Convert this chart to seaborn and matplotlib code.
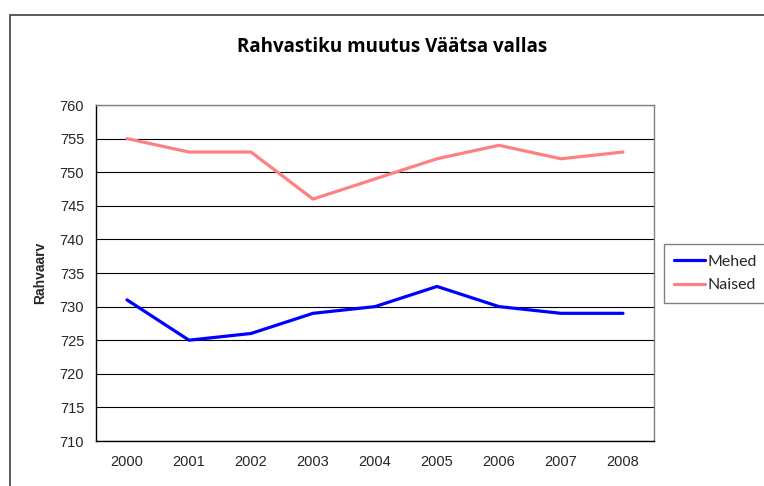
import matplotlib
matplotlib.use('Agg')
import matplotlib.pyplot as plt
import seaborn as sns
import pandas as pd
from matplotlib.patches import Rectangle

years = ['2000', '2001', '2002', '2003', '2004', '2005', '2006', '2007', '2008']
mehed = [731, 725, 726, 729, 730, 733, 730, 729, 729]
naised = [755, 753, 753, 746, 749, 752, 754, 752, 753]

df = pd.DataFrame({
    'aasta': list(range(len(years))) * 2,
    'rahvaarv': mehed + naised,
    'sugu': ['Mehed'] * len(years) + ['Naised'] * len(years),
})

sns.set_style('white')
plt.rcParams['font.family'] = ['Liberation Sans', 'DejaVu Sans']

fig = plt.figure(figsize=(7.64, 4.86), dpi=100)
ax = fig.add_axes([96 / 764, 45 / 486, 558 / 764, 336 / 486])

sns.lineplot(data=df, x='aasta', y='rahvaarv', hue='sugu',
             palette={'Mehed': '#0000FF', 'Naised': '#FF8080'},
             linewidth=2.3, ax=ax, legend=False)

ax.set_xlim(-0.5, len(years) - 0.5)
ax.set_ylim(710, 760)
ax.set_yticks(range(710, 761, 5))
ax.set_xticks([i - 0.5 for i in range(len(years) + 1)], minor=False)
ax.set_xticklabels([])
ax.set_xticks(range(len(years)), minor=True)
ax.set_xticklabels(years, minor=True)
ax.tick_params(axis='x', which='minor', length=0, labelsize=10.5, pad=10)
ax.tick_params(axis='x', which='major', length=4, width=1, color='black', direction='out')
ax.tick_params(axis='y', length=5, width=1, color='black', labelsize=10.5, direction='out')
ax.grid(axis='y', color='black', linewidth=0.8)
ax.set_axisbelow(True)
for s in ['top', 'right']:
    ax.spines[s].set_color('#808080')
    ax.spines[s].set_linewidth(1)
for s in ['left', 'bottom']:
    ax.spines[s].set_color('black')
    ax.spines[s].set_linewidth(1)
ax.set_xlabel('')
ax.set_ylabel('Rahvaarv', fontsize=10, fontweight='bold', labelpad=9)

fig.text(392 / 764, 1 - 47 / 486, 'Rahvastiku muutus Väätsa vallas',
         ha='center', va='center', fontsize=13.5, fontweight='bold',
         color='black', family=['Open Sans', 'DejaVu Sans'])

# legend
lines = ax.get_lines()
leg = fig.legend(lines[:2], ['Mehed', 'Naised'], loc='upper left',
                 bbox_to_anchor=(664 / 764, 1 - 244 / 486),
                 borderaxespad=0, frameon=True, fancybox=False,
                 handlelength=1.9, borderpad=0.65, labelspacing=0.6,
                 handletextpad=0.2,
                 prop={'family': ['Lato', 'DejaVu Sans'], 'size': 11.5})
leg.get_frame().set_edgecolor('#606060')
leg.get_frame().set_linewidth(1)

fig.patches.append(Rectangle((10 / 764, -0.1), 1.2, 1 - 15 / 486 + 0.1,
                             transform=fig.transFigure, fill=False,
                             edgecolor='#404040', linewidth=1.2))

fig.savefig('out.png', dpi=100)
